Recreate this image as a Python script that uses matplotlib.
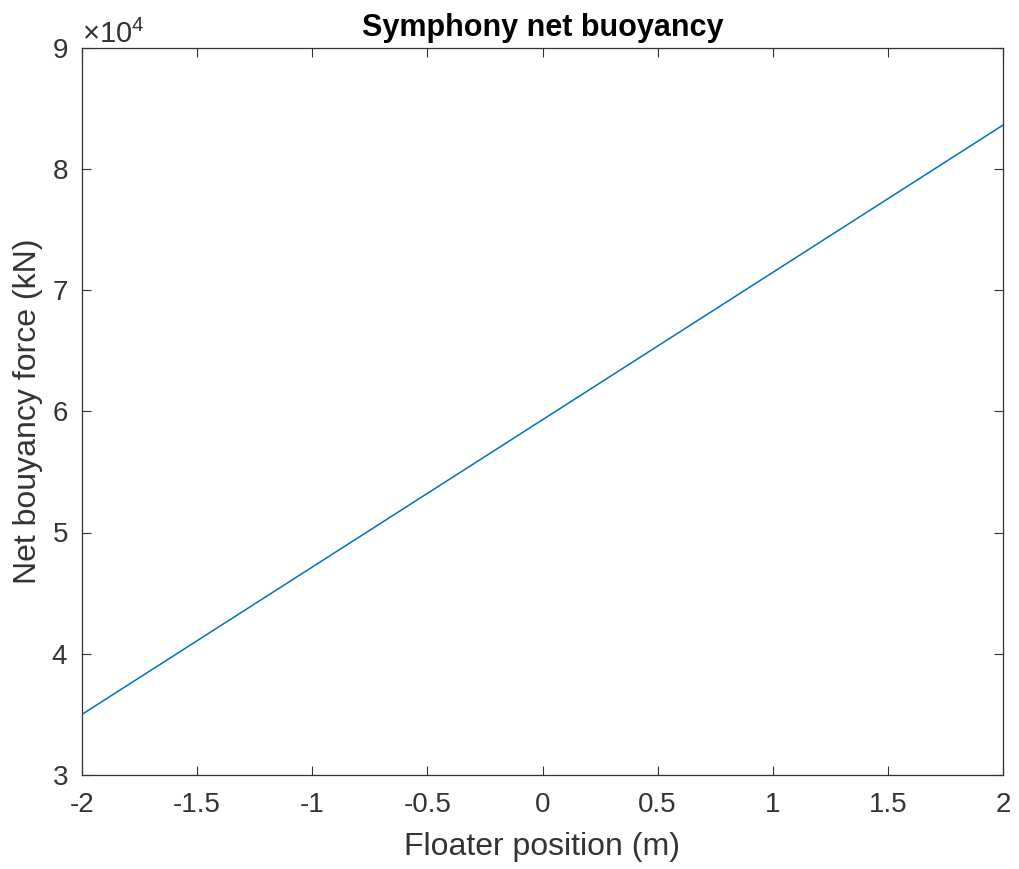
import matplotlib
matplotlib.use("Agg")
import matplotlib.pyplot as plt
from matplotlib.ticker import ScalarFormatter

# Net buoyancy vs floater position
position_m = [-2.0, -1.0, 0.0, 1.0, 2.0]
buoyancy_kN = [35000, 47150, 59300, 71450, 83600]
x_ticks = [-2, -1.5, -1, -0.5, 0, 0.5, 1, 1.5, 2]
x_tick_labels = ["-2", "-1.5", "-1", "-0.5", "0", "0.5", "1", "1.5", "2"]

plt.rcParams["font.family"] = ["Liberation Sans", "DejaVu Sans"]
plt.rcParams["mathtext.fontset"] = "custom"
plt.rcParams["mathtext.rm"] = "Liberation Sans"
plt.rcParams["mathtext.it"] = "Liberation Sans"

text_color = "#333333"

fig = plt.figure(figsize=(10.19, 8.69), dpi=100)
ax = fig.add_axes([82 / 1019, 1 - 775 / 869, (1003 - 82) / 1019, (775 - 47.5) / 869])

ax.plot(position_m, buoyancy_kN, color="#0072BD", linewidth=1.1)

ax.set_xlim(-2, 2)
ax.set_ylim(30000, 90000)
ax.set_xticks(x_ticks)
ax.set_xticklabels(x_tick_labels)
ax.set_yticks([30000, 40000, 50000, 60000, 70000, 80000, 90000])

fmt = ScalarFormatter(useMathText=True)
fmt.set_powerlimits((0, 0))
ax.yaxis.set_major_formatter(fmt)
off = ax.yaxis.get_offset_text()
off.set_fontsize(21)
off.set_color(text_color)

ax.tick_params(direction="in", top=True, right=True, length=6.5, width=0.8,
               colors=text_color, labelsize=20)
ax.tick_params(axis="x", pad=12)
ax.tick_params(axis="y", pad=10)
for s in ax.spines.values():
    s.set_color(text_color)
    s.set_linewidth(0.9)

ax.set_title("Symphony net buoyancy", fontsize=22, fontweight="bold", color="black", pad=8)
ax.set_xlabel("Floater position (m)", fontsize=23, color=text_color, labelpad=10)
ax.set_ylabel("Net bouyancy force (kN)", fontsize=23, color=text_color, labelpad=6)

fig.savefig("out.png", dpi=100, facecolor="white")
